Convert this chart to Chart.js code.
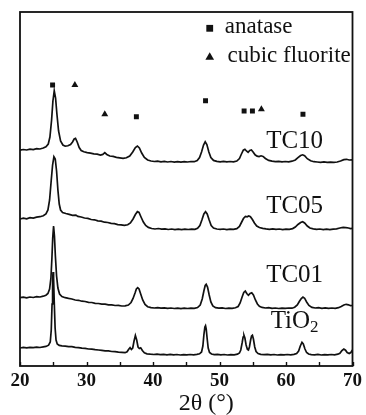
<!DOCTYPE html>
<html>
<head>
<meta charset="utf-8">
<script src="https://cdn.jsdelivr.net/npm/chart.js@4.4.1/dist/chart.umd.min.js"></script>
<style>
  html, body { margin: 0; padding: 0; background: #fff; }
  #wrap { width: 366px; height: 415px; }
</style>
</head>
<body>
<div id="wrap"><canvas id="xrd"></canvas></div>
<script>
// XRD patterns, [2theta, stacked intensity]
const tio2 = [[20,18.0],[20.5,18.6],[21,18.1],[21.5,18.7],[22,18.3],[22.5,18.9],[23,18.5],[23.5,19.1],[23.9,19.6],[24.3,20.8],[24.55,24],[24.7,36],[24.82,62],[24.9,86],[24.97,94],[25.05,88],[25.15,64],[25.28,38],[25.42,26],[25.6,22],[25.9,20.6],[26.3,20.1],[26.8,19.9],[27.3,19.3],[27.8,19.4],[28.3,18.6],[28.8,18.4],[29.3,17.8],[29.8,17.7],[30.3,17.0],[30.8,16.9],[31.3,16.3],[31.8,16.0],[32.3,15.7],[32.8,15.2],[33.3,15.1],[33.8,14.5],[34.3,14.4],[34.8,13.9],[35.3,13.6],[35.8,13.3],[36.1,14.2],[36.35,16.8],[36.55,18.3],[36.75,16.5],[36.95,18],[37.15,25],[37.35,30.5],[37.55,26],[37.75,19],[37.95,17.5],[38.15,18.2],[38.4,15.5],[38.7,13.2],[39.1,12.2],[39.6,11.8],[40.1,11.5],[40.6,11.9],[41.1,11.3],[41.6,11.7],[42.1,11.2],[42.6,11.6],[43.1,11.1],[43.6,11.5],[44.1,11.0],[44.6,11.4],[45.1,11.1],[45.6,11.5],[46.1,11.2],[46.6,11.6],[47.0,12.2],[47.3,14],[47.5,20],[47.65,31],[47.8,39],[47.9,40.3],[48.0,37],[48.15,27],[48.3,18],[48.5,13.5],[48.8,12],[49.2,11.4],[49.7,11.7],[50.2,11.1],[50.7,11.5],[51.2,11.0],[51.7,11.4],[52.2,11.2],[52.7,11.8],[53.0,13],[53.2,16],[53.4,23],[53.55,29],[53.68,30.7],[53.82,28],[54.0,21],[54.2,16.5],[54.35,16],[54.5,19],[54.68,26],[54.82,30],[54.95,30.7],[55.1,27],[55.3,19],[55.5,14.5],[55.8,12.4],[56.2,11.6],[56.7,11.3],[57.2,11.7],[57.7,11.1],[58.2,11.5],[58.7,11.0],[59.2,11.4],[59.7,11.1],[60.2,11.5],[60.7,11.2],[61.2,11.6],[61.6,12.5],[61.9,15],[62.15,20],[62.4,23.7],[62.6,22],[62.85,17],[63.1,13.5],[63.4,12],[63.8,11.4],[64.3,11.2],[64.8,11.6],[65.3,11.0],[65.8,11.4],[66.3,11.1],[66.8,11.5],[67.3,11.2],[67.8,11.8],[68.1,12.8],[68.4,15.3],[68.7,17],[68.95,15.8],[69.2,13.4],[69.5,12.5],[69.75,13.5],[70,16]];

const tc01 = [[20,68.3],[20.5,68.9],[21,68.2],[21.5,69.0],[22,68.5],[22.5,69.3],[23,69.0],[23.5,69.8],[23.9,70.8],[24.2,72.5],[24.45,77],[24.65,88],[24.8,108],[24.92,128],[25.05,140],[25.18,130],[25.32,110],[25.5,90],[25.7,78],[25.95,72],[26.3,69.5],[26.8,68.3],[27.3,67.6],[27.8,67.0],[28.3,66.0],[28.8,65.7],[29.3,64.8],[29.8,64.5],[30.3,63.6],[30.8,63.5],[31.3,62.6],[31.8,62.5],[32.3,61.8],[32.8,61.9],[33.3,61.1],[33.8,61.2],[34.3,60.5],[34.8,60.6],[35.3,60.0],[35.8,60.2],[36.3,61],[36.7,63.5],[37.0,67.5],[37.3,73],[37.5,77],[37.7,78.3],[37.9,77],[38.15,72],[38.45,66],[38.8,61.5],[39.2,59.3],[39.7,58.4],[40.2,58.0],[40.7,58.4],[41.2,57.8],[41.7,58.2],[42.2,57.6],[42.7,58.0],[43.2,57.5],[43.7,57.9],[44.2,57.4],[44.7,57.8],[45.2,57.5],[45.7,57.9],[46.2,57.6],[46.7,58.4],[47.1,61],[47.4,67],[47.65,75],[47.85,80.5],[48.0,81.7],[48.2,79],[48.45,71],[48.7,64],[49.0,60],[49.4,58.3],[49.9,57.8],[50.4,58.1],[50.9,57.5],[51.4,57.9],[51.9,57.6],[52.4,58.2],[52.8,59.5],[53.1,63],[53.4,69],[53.65,73.5],[53.88,75],[54.1,72.5],[54.35,70.7],[54.6,72.5],[54.85,73.3],[55.1,71],[55.4,66],[55.7,62],[56.0,59.8],[56.4,58.6],[56.9,58.0],[57.4,58.3],[57.9,57.6],[58.4,58.0],[58.9,57.5],[59.4,57.9],[59.9,57.6],[60.4,58.0],[60.9,57.8],[61.3,58.8],[61.7,61],[62.0,64.5],[62.3,67.5],[62.55,69],[62.8,67.8],[63.1,64],[63.45,60.5],[63.9,58.6],[64.4,58.0],[64.9,58.3],[65.4,57.7],[65.9,58.1],[66.4,57.6],[66.9,58.0],[67.4,57.7],[67.9,58.3],[68.3,59.5],[68.7,61],[69.05,61.7],[69.4,61.2],[69.7,60.3],[70,60.5]];

const tc05 = [[20,147.0],[20.5,147.8],[21,147.2],[21.5,148.3],[22,147.9],[22.5,148.8],[23,149.3],[23.5,150.3],[23.9,152],[24.2,156],[24.45,166],[24.7,186],[24.9,201],[25.1,209.3],[25.3,207],[25.5,195],[25.7,176],[25.9,162],[26.1,156],[26.4,153.5],[26.9,152.5],[27.4,151.6],[27.9,150.6],[28.4,150.9],[28.7,149.6],[29.2,149.0],[29.7,148.0],[30.2,147.6],[30.7,146.5],[31.2,146.2],[31.7,145.2],[32.2,144.8],[32.7,143.8],[33.2,143.5],[33.7,142.6],[34.2,142.3],[34.7,141.4],[35.2,141.2],[35.7,140.7],[36.2,141.2],[36.6,143],[37.0,147],[37.35,151.5],[37.65,154.3],[37.9,153.5],[38.2,149],[38.55,144],[38.9,140.5],[39.3,138.6],[39.8,137.5],[40.3,137.0],[40.8,137.5],[41.3,136.8],[41.8,137.2],[42.3,136.5],[42.8,137.0],[43.3,136.4],[43.8,136.9],[44.3,136.4],[44.8,136.8],[45.3,136.5],[45.8,136.9],[46.3,136.6],[46.7,137.6],[47.05,140.5],[47.35,146],[47.65,152],[47.9,154.3],[48.15,152],[48.45,146],[48.75,140.5],[49.1,138],[49.6,137],[50.1,136.6],[50.6,137.0],[51.1,136.4],[51.6,136.9],[52.1,136.6],[52.6,137.4],[53.0,139.5],[53.3,143.5],[53.6,147.5],[53.9,149.6],[54.15,149.2],[54.4,150],[54.65,149.3],[54.95,146.5],[55.25,143],[55.6,140],[56.0,138.5],[56.5,137.6],[57.0,137.1],[57.5,136.7],[58.0,137.2],[58.5,136.6],[59.0,137.0],[59.5,136.4],[60.0,136.9],[60.5,136.6],[61.0,137.4],[61.4,139],[61.8,141.5],[62.2,143.5],[62.5,144.3],[62.8,143],[63.2,140],[63.6,138],[64.1,137.1],[64.6,136.7],[65.1,137.0],[65.6,136.4],[66.1,136.8],[66.6,136.4],[67.1,136.9],[67.6,137.2],[68.1,138],[68.6,138.6],[69.0,138.4],[69.4,138],[69.7,137.4],[70,137.6]];

const tc10 = [[20,215.8],[20.5,216.5],[21,216.0],[21.5,216.9],[22,216.4],[22.5,217.3],[23,217.0],[23.5,218.0],[23.9,219.3],[24.25,222],[24.5,229],[24.75,246],[24.95,265],[25.15,275.3],[25.35,268],[25.55,252],[25.8,235],[26.1,225],[26.45,221],[26.8,219.8],[27.2,220.2],[27.6,221.5],[27.9,224],[28.15,227],[28.35,227.7],[28.6,224],[28.9,218.5],[29.2,215.5],[29.6,214.2],[30.1,213.4],[30.6,212.9],[31.1,212.2],[31.6,211.8],[32.1,211.0],[32.45,211.6],[32.75,213.3],[33.05,211.5],[33.5,210.0],[34.0,209.6],[34.5,208.7],[35.0,208.2],[35.5,207.7],[36.0,208.2],[36.5,210],[36.95,214],[37.35,218.5],[37.65,220],[37.95,218],[38.3,213],[38.7,208.5],[39.2,206],[39.7,205],[40.2,204.5],[40.7,204.9],[41.2,204.2],[41.7,204.6],[42.2,204.0],[42.7,204.5],[43.2,203.9],[43.7,204.4],[44.2,203.9],[44.7,204.3],[45.2,204.0],[45.7,204.5],[46.2,204.3],[46.65,205.5],[47.0,208.5],[47.3,214],[47.6,221],[47.85,224.3],[48.1,221.5],[48.4,214],[48.7,208.5],[49.1,205.6],[49.6,204.6],[50.1,204.2],[50.6,204.7],[51.1,204.1],[51.6,204.5],[52.1,204.2],[52.6,205],[53.0,207.5],[53.3,212],[53.58,215.8],[53.82,216.7],[54.05,215],[54.3,213.6],[54.55,215.5],[54.8,216],[55.05,214],[55.35,211.2],[55.65,209.8],[55.95,209.4],[56.25,210.2],[56.55,209.6],[56.9,207.5],[57.4,205.6],[57.9,204.8],[58.4,204.4],[58.9,204.7],[59.4,204.1],[59.9,204.5],[60.4,204.2],[60.9,204.8],[61.4,206],[61.8,208.3],[62.2,210.5],[62.5,211.2],[62.8,210.2],[63.2,207.3],[63.7,205.2],[64.2,204.3],[64.7,204.0],[65.2,203.7],[65.7,204.1],[66.2,203.6],[66.7,203.9],[67.2,203.6],[67.7,204.0],[68.2,205],[68.7,206.4],[69.1,206.7],[69.5,206],[70,206.2]];

// reflection markers above the TC10 pattern
const anatasePeaks = [[24.9,281],[37.5,249.3],[47.9,265.3],[53.7,255],[54.95,255],[62.55,251.7]];
const fluoritePeaks = [[28.25,281],[32.75,251.7],[56.3,256.7]];

const seriesNames = ['TiO2', 'TC01', 'TC05', 'TC10'];
const legendNames = ['anatase', 'cubic fluorite'];
const xTicks = { min: 20, max: 70, step: 5 };

const ink = '#111';
const serif = '"Liberation Serif", "Times New Roman", serif';

// where the name of each pattern sits, in data units (baseline of text)
const nameAnchors = { x: 61.3, y: [37.7, 83.7, 153.3, 217.7] };

const decorPlugin = {
  id: 'decor',
  afterDatasetsDraw(chart) {
    const { ctx, chartArea: a, scales: { x, y } } = chart;
    ctx.save();

    // frame + inward ticks on the bottom
    ctx.strokeStyle = ink;
    ctx.lineWidth = 1.8;
    ctx.strokeRect(a.left, a.top, a.right - a.left, a.bottom - a.top);
    ctx.lineWidth = 1.4;
    ctx.beginPath();
    x.ticks.forEach(t => {
      const px = Math.round(x.getPixelForValue(t.value)) + 0.5;
      ctx.moveTo(px, a.bottom);
      ctx.lineTo(px, a.bottom - 4);
    });
    ctx.stroke();

    // pattern names
    ctx.fillStyle = ink;
    ctx.textBaseline = 'alphabetic';
    const cx = x.getPixelForValue(nameAnchors.x);
    seriesNames.forEach((name, i) => {
      const by = y.getPixelForValue(nameAnchors.y[i]);
      if (name === 'TiO2') {
        ctx.font = '25px ' + serif;
        const w1 = ctx.measureText('TiO').width;
        ctx.font = '17px ' + serif;
        const w2 = ctx.measureText('2').width;
        const left = cx - (w1 + w2) / 2;
        ctx.textAlign = 'left';
        ctx.font = '25px ' + serif;
        ctx.fillText('TiO', left, by);
        ctx.font = '17px ' + serif;
        ctx.fillText('2', left + w1, by + 4);
      } else {
        ctx.font = '25px ' + serif;
        ctx.textAlign = 'center';
        ctx.fillText(name, cx, by);
      }
    });

    // legend
    const lx = x.getPixelForValue(48.53);
    const sy = y.getPixelForValue(337.7);
    ctx.fillRect(lx - 3.4, sy - 3.4, 6.8, 6.8);
    const ty = y.getPixelForValue(308.8);
    const r = 5;
    ctx.beginPath();
    ctx.moveTo(lx, ty - r);
    ctx.lineTo(lx + r * 0.866, ty + r / 2);
    ctx.lineTo(lx - r * 0.866, ty + r / 2);
    ctx.closePath();
    ctx.fill();
    ctx.font = '23px ' + serif;
    ctx.textAlign = 'left';
    ctx.fillText(legendNames[0], x.getPixelForValue(50.8), y.getPixelForValue(332.7));
    ctx.fillText(legendNames[1], x.getPixelForValue(51.2), y.getPixelForValue(304.3));

    // axis title, sits a bit right of centre in the original
    ctx.font = '24px ' + serif;
    ctx.textAlign = 'center';
    ctx.fillText('2\u03B8 (\u00B0)', x.getPixelForValue(48.0), x.bottom - 5);

    ctx.restore();
  }
};

const traceStyle = {
  type: 'line',
  borderColor: ink,
  borderWidth: 1.7,
  pointRadius: 0,
  tension: 0,
  fill: false
};

new Chart(document.getElementById('xrd'), {
  type: 'line',
  data: {
    datasets: [
      { ...traceStyle, label: seriesNames[0], data: tio2 },
      { ...traceStyle, label: seriesNames[1], data: tc01 },
      { ...traceStyle, label: seriesNames[2], data: tc05 },
      { ...traceStyle, label: seriesNames[3], data: tc10 },
      { type: 'line', label: legendNames[0], data: anatasePeaks, showLine: false,
        pointStyle: 'rect', pointRadius: 3.5, pointBackgroundColor: ink, pointBorderWidth: 0 },
      { type: 'line', label: legendNames[1], data: fluoritePeaks, showLine: false,
        pointStyle: 'triangle', pointRadius: 4, pointBackgroundColor: ink, pointBorderWidth: 0 }
    ]
  },
  options: {
    responsive: true,
    maintainAspectRatio: false,
    animation: false,
    events: [],
    layout: { padding: { top: 12, left: 20, right: 13, bottom: 0 } },
    plugins: {
      legend: { display: false },
      tooltip: { enabled: false }
    },
    scales: {
      x: {
        type: 'linear',
        min: xTicks.min,
        max: xTicks.max,
        border: { display: false },
        grid: { display: false, drawTicks: false },
        afterFit: (scale) => { scale.height = 49; },
        ticks: {
          stepSize: xTicks.step,
          autoSkip: false,
          maxRotation: 0,
          padding: 4,
          color: ink,
          font: { family: serif, size: 19, weight: 'bold' },
          callback: (v) => (v % 10 === 0 ? v : '')
        }
      },
      y: {
        display: false,
        min: 0,
        max: 354
      }
    }
  },
  plugins: [decorPlugin]
});
</script>
</body>
</html>
